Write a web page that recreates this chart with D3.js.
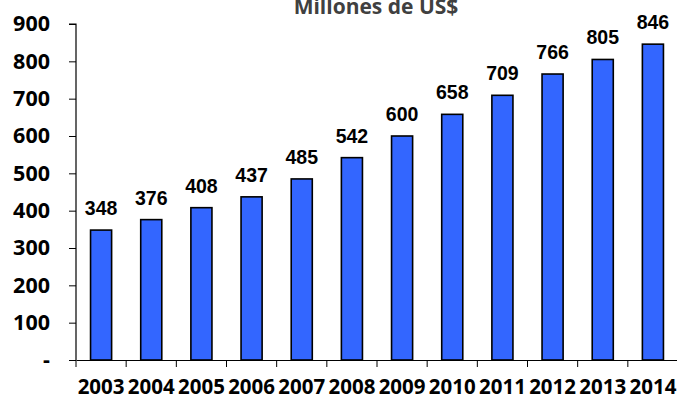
<!DOCTYPE html>
<html>
<head>
<meta charset="utf-8">
<script src="https://cdn.jsdelivr.net/npm/d3@7"></script>
<style>
  body { margin: 0; background: #fff; }
  svg { display: block; }
</style>
</head>
<body>
<script>
var years = ["2003", "2004", "2005", "2006", "2007", "2008", "2009", "2010", "2011", "2012", "2013", "2014"];
var values = [348, 376, 408, 437, 485, 542, 600, 658, 709, 766, 805, 846];
var yTicks = [0, 100, 200, 300, 400, 500, 600, 700, 800, 900];

var W = 677, H = 400;
var margin = {top: 24, right: -1, bottom: 40, left: 76};
var width = W - margin.left - margin.right,
    height = H - margin.top - margin.bottom;

var svg = d3.select("body").append("svg")
    .attr("width", W)
    .attr("height", H);

// title, partly cut off at the top
svg.append("text")
    .attr("x", 376)
    .attr("y", 14)
    .attr("text-anchor", "middle")
    .style("font-family", "'Open Sans', sans-serif")
    .style("font-weight", "bold")
    .style("font-size", "21px")
    .style("fill", "#404040")
    .text("Millones de US$");

var g = svg.append("g")
    .attr("transform", "translate(" + margin.left + "," + margin.top + ")");

var x = d3.scaleBand()
    .domain(years)
    .range([0, width])
    .paddingInner(0.58)
    .paddingOuter(0.29);

var y = d3.scaleLinear()
    .domain([0, 900])
    .range([height, 0]);

// bars
g.selectAll(".bar")
    .data(values)
    .enter().append("rect")
    .attr("class", "bar")
    .attr("x", function (d, i) { return x(years[i]); })
    .attr("width", x.bandwidth())
    .attr("y", function (d) { return y(d); })
    .attr("height", function (d) { return height - y(d); })
    .style("fill", "#3366ff")
    .style("stroke", "#000")
    .style("stroke-width", 1.6);

// value labels
g.selectAll(".val")
    .data(values)
    .enter().append("text")
    .attr("class", "val")
    .attr("x", function (d, i) { return x(years[i]) + x.bandwidth() / 2; })
    .attr("y", function (d) { return y(d) - 15; })
    .attr("text-anchor", "middle")
    .style("font-family", "'Liberation Sans', Arial, sans-serif")
    .style("font-weight", "bold")
    .style("font-size", "19.5px")
    .style("fill", "#000")
    .text(function (d) { return d; });

// y axis
var yAxis = g.append("g")
    .call(d3.axisLeft(y)
        .tickValues(yTicks)
        .tickSize(7)
        .tickPadding(19)
        .tickFormat(function (d) { return d === 0 ? "-" : d; }));

// x axis: ticks between categories
var xAxis = g.append("g")
    .attr("transform", "translate(0," + height + ")")
    .call(d3.axisBottom(x).tickSize(0).tickPadding(19));

xAxis.selectAll(".tick")
    .append("line")
    .attr("x1", -x.step() / 2)
    .attr("x2", -x.step() / 2)
    .attr("y1", 0)
    .attr("y2", 7)
    .attr("stroke", "#000");

[yAxis, xAxis].forEach(function (a) {
    a.select(".domain").attr("stroke", "#000").attr("stroke-width", 1.2);
    a.selectAll("text")
        .style("font-family", "'Open Sans', sans-serif")
        .style("font-weight", "bold")
        .style("fill", "#000");
});
yAxis.selectAll("text").style("font-size", "21.5px");
xAxis.selectAll("text").style("font-size", "20.5px").attr("dy", "0.71em");
yAxis.select(".domain").attr("d", "M0," + height + "V0H-7");
</script>
</body>
</html>
